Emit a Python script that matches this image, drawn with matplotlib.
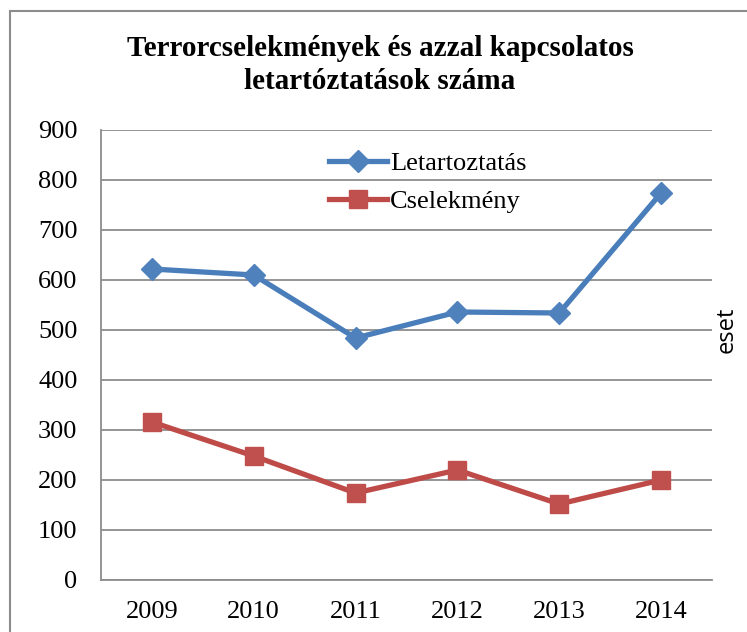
import matplotlib
matplotlib.use("Agg")
import matplotlib.pyplot as plt
from matplotlib.patches import Rectangle

# Data
years = ["2009", "2010", "2011", "2012", "2013", "2014"]
letartoztatas = [622, 610, 484, 536, 534, 774]
cselekmeny = [316, 248, 174, 220, 152, 200]
y_ticks = [0, 100, 200, 300, 400, 500, 600, 700, 800, 900]

title = "Terrorcselekmények és azzal kapcsolatos\nletartóztatások száma"

W, H = 747, 632
fig = plt.figure(figsize=(W / 100, H / 100), dpi=100)
plt.rcParams['font.family'] = ['Liberation Serif', 'DejaVu Serif']

# Plot area in pixels: left 101, right 712, top 130, bottom 580
ax = fig.add_axes([101 / W, 1 - 580 / H, (712 - 101) / W, (580 - 130) / H])

x = list(range(len(years)))
ax.plot(x, letartoztatas, color="#4A7EBB", lw=3.8, marker="D", ms=11,
        mfc="#4F81BD", mec="#4F81BD", label="Letartoztatás", zorder=3)
ax.plot(x, cselekmeny, color="#BE4B48", lw=3.8, marker="s", ms=12.5,
        mfc="#C0504D", mec="#C0504D", label="Cselekmény", zorder=3)

ax.set_xlim(-0.5, len(years) - 0.5)
ax.set_ylim(0, 900)
ax.set_xticks(x)
ax.set_xticklabels(years)
ax.set_yticks(y_ticks)
ax.tick_params(axis="both", length=0, labelsize=19)
ax.tick_params(axis="y", pad=17)
ax.tick_params(axis="x", pad=15)

ax.grid(axis="y", color="#8C8C8C", lw=1.3)
ax.set_axisbelow(True)
for s in ["top", "right"]:
    ax.spines[s].set_visible(False)
for s in ["left", "bottom"]:
    ax.spines[s].set_color("#8C8C8C")
    ax.spines[s].set_linewidth(1.3)

leg = ax.legend(loc="upper left", bbox_to_anchor=(0.335, 1.005), frameon=False,
                fontsize=19, handlelength=2.2, handletextpad=0.1,
                labelspacing=0.55)

fig.text(380 / W, 1 - 65 / H, title, ha="center", va="center",
         fontsize=21, fontweight="bold", linespacing=1.3)

fig.text(727 / W, 1 - 330 / H, "eset", rotation=90, ha="center", va="center",
         fontsize=17, family=["Open Sans", "DejaVu Sans"])

# outer chart frame (cropped on right and bottom)
fig.patches.append(Rectangle((9.5 / W, -0.1), 1.2, 1.1 - 10.5 / H,
                             transform=fig.transFigure, fill=False,
                             edgecolor="#8C8C8C", lw=1.5))

fig.savefig("out.png", dpi=100)
